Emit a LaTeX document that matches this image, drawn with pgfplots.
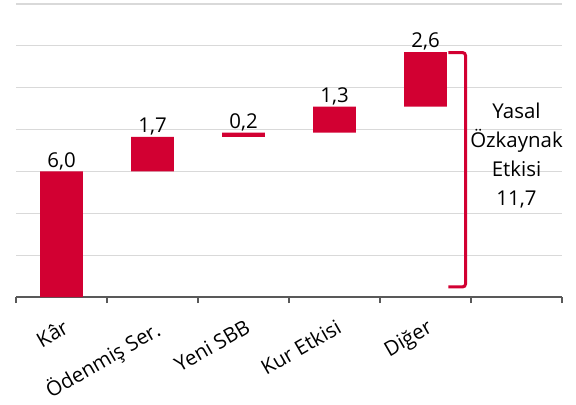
\documentclass[border=0pt]{standalone}
\usepackage{fontspec}
\setmainfont{Open Sans}
\usepackage{pgfplots}
\pgfplotsset{compat=1.18}
\definecolor{ired}{RGB}{210,0,50}
\begin{document}
\fontsize{20.5}{29}\selectfont
\begin{tikzpicture}
\begin{axis}[
 at={(0,0)}, anchor=south west,
 scale only axis, width=546bp, height=293bp,
 xmin=-0.5, xmax=5.5, ymin=0, ymax=14,
 ytick={0,2,...,14}, yticklabels={}, ymajorgrids,
 grid style={draw=black!15, line width=1.2bp},
 major y tick style={draw=none},
 axis lines*=left,
 y axis line style={draw=none},
 x axis line style={draw=black!65, line width=1.2bp},
 xtick={0,...,4}, xticklabels={Kâr, Ödenmiş Ser., Yeni SBB, Kur Etkisi, Diğer},
 major x tick style={draw=none},
 minor xtick={-0.5,0.5,...,5.5},
 minor x tick style={draw=black!65, line width=1.2bp},
 minor tick length=6bp, tick align=outside,
 x tick label style={rotate=30, anchor=north east, inner sep=2bp, yshift=-13bp, xshift=-6bp, font=\fontsize{20.5}{24}\selectfont},
 ybar stacked, bar width=0.47,
 clip=false,
]
\addplot[fill=none, draw=none, forget plot] coordinates {(0,0) (1,6.0) (2,7.65) (3,7.85) (4,9.1)};
\addplot[fill=ired, draw=none] coordinates {(0,6.0) (1,1.65) (2,0.2) (3,1.25) (4,2.6)};
\addplot[fill=none, draw=none, nodes near coords, point meta=explicit symbolic,
  every node near coord/.style={text=black, anchor=south, inner sep=1.5bp, font=\fontsize{20.5}{24}\selectfont}]
  table[meta=label] {
x y label
0 0.001 6,0
1 0.001 1,7
2 0.001 0,2
3 0.001 1,3
4 0.001 2,6
};
\draw[ired, line width=3bp, rounded corners=3bp] (axis cs:4.25,11.68) -- (axis cs:4.44,11.68) -- (axis cs:4.44,0.48) -- (axis cs:4.25,0.48);
\node[align=center, font=\fontsize{20.5}{29}\selectfont] at (axis cs:5,6.76) {Yasal\\Özkaynak\\Etkisi\\11,7};
\end{axis}
\pgfresetboundingbox
\path (-16bp,-108bp) rectangle (560bp,297bp);
\end{tikzpicture}
\end{document}
